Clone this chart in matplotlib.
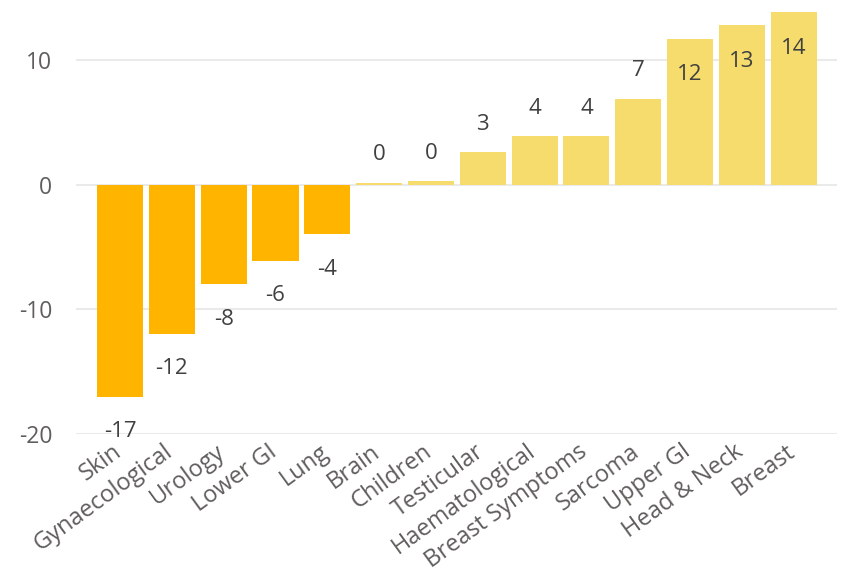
import numpy as np
import matplotlib
matplotlib.use("Agg")
import matplotlib.pyplot as plt
import matplotlib.transforms as mtransforms

categories = ["Skin", "Gynaecological", "Urology", "Lower GI", "Lung", "Brain",
              "Children", "Testicular", "Haematological", "Breast Symptoms",
              "Sarcoma", "Upper GI", "Head & Neck", "Breast"]
values = [-17.0, -12.0, -8.0, -6.1, -4.0, 0.15, 0.25, 2.6, 3.9, 3.9, 6.9, 11.7, 12.8, 13.8]
yticks = [-20, -10, 0, 10]

neg_color = "#FFB400"
pos_color = "#F6DC6C"
text_gray = "#605E5C"
label_gray = "#404040"

plt.rcParams['font.family'] = ['Open Sans', 'DejaVu Sans']

fig = plt.figure(figsize=(8.44, 5.74), dpi=100)
ax = fig.add_axes([0.090, 0.2439, 0.902, 0.7387])

x = np.arange(len(categories))
colors = [neg_color if v < 0 else pos_color for v in values]
ax.bar(x, values, width=0.89, color=colors, zorder=2)

# data labels: below negatives, above small positives, inside the tall ones
for xi, v in zip(x, values):
    txt = f"{round(v):.0f}"
    if v < 0:
        dy = -25
    elif v > 10:
        dy = -26
    else:
        dy = 20
    ax.annotate(txt, (xi, v), xytext=(0, dy), textcoords="offset points",
                ha="center", va="center", fontsize=16, color=label_gray)

ax.set_xlim(-0.85, 13.84)
ax.set_ylim(-20, 14)
ax.set_yticks(yticks)
ax.set_yticklabels([str(t) for t in yticks], fontsize=16.5, color=text_gray)
ax.tick_params(axis="y", length=0, pad=17)
ax.tick_params(axis="x", length=0, pad=4)
ax.set_xticks(x)
ax.set_xticklabels(categories, rotation=36, ha="right", rotation_mode="anchor",
                   fontsize=17, color=text_gray)
shift = mtransforms.ScaledTranslation(-6 / 72, 0, fig.dpi_scale_trans)
for lbl in ax.get_xticklabels():
    lbl.set_transform(lbl.get_transform() + shift)

ax.grid(axis="y", color="#EAEAEA", linewidth=1.5, zorder=0)
for s in ax.spines.values():
    s.set_visible(False)

fig.savefig("out.png", dpi=100, facecolor="white")
